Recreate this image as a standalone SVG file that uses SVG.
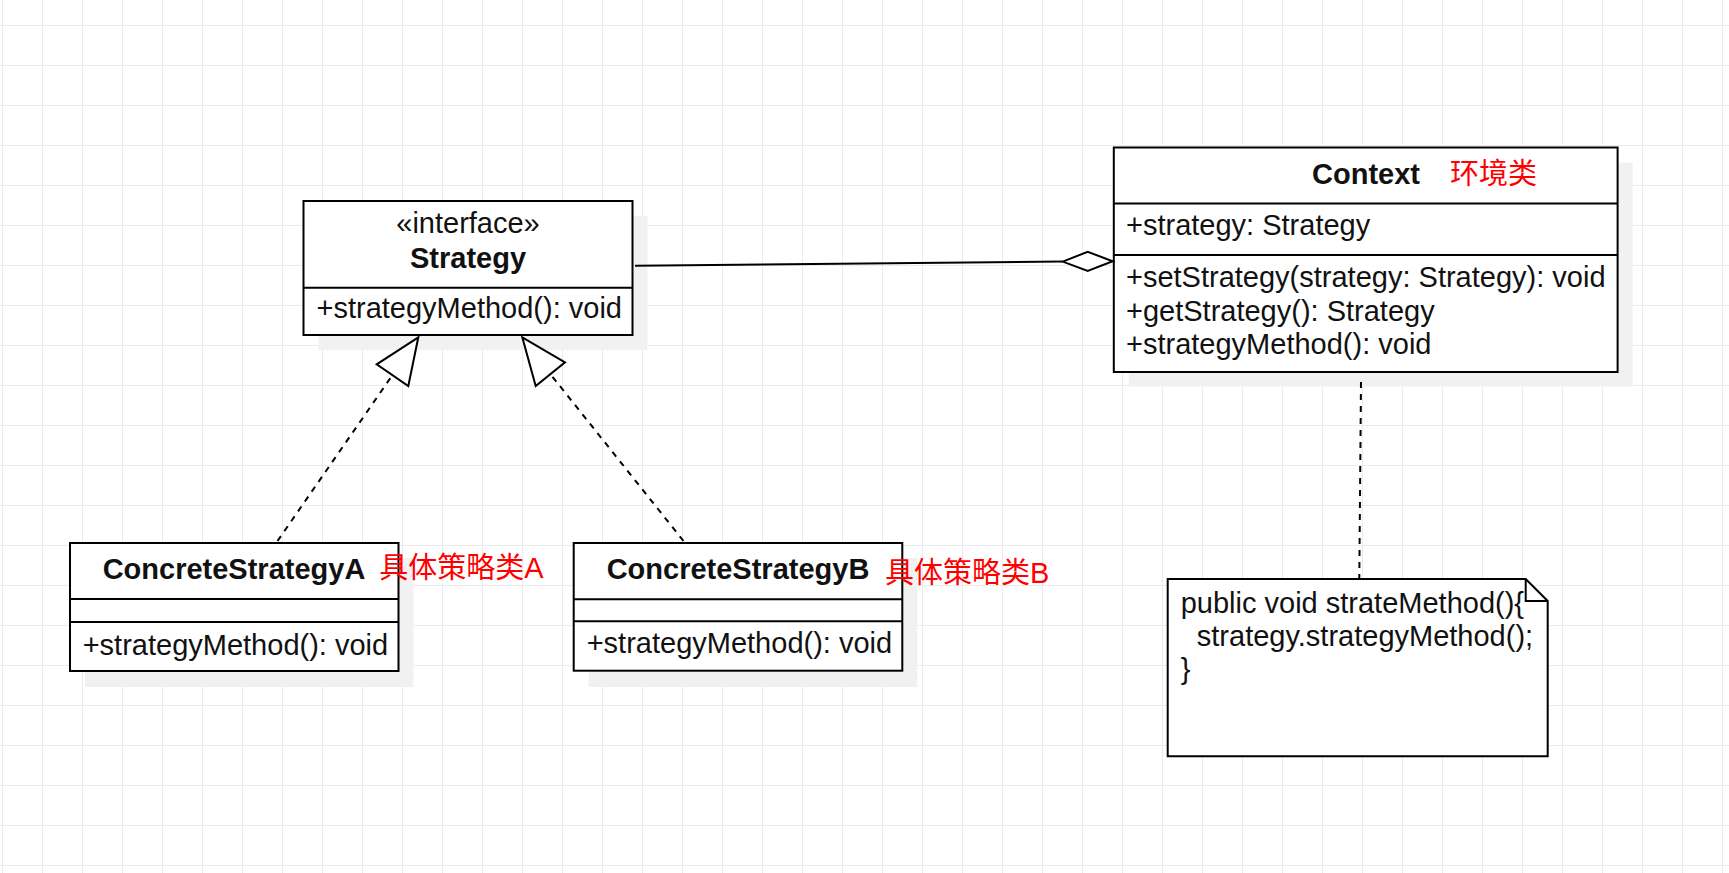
<svg xmlns="http://www.w3.org/2000/svg" width="1729" height="873" viewBox="0 0 1729 873">
<defs>
<pattern id="grid" x="2" y="25" width="40" height="40" patternUnits="userSpaceOnUse">
<path d="M0 0.5H40M0.5 0V40" fill="none" stroke="#ebebeb" stroke-width="1"/>
</pattern>
<style>
.box{fill:#fff;stroke:#000;stroke-width:2}
.shadow{fill:#f1f1f1}
.div{stroke:#000;stroke-width:2}
.t{font-family:"Liberation Sans",Arial,sans-serif;font-size:29px;fill:#111}
.b{font-weight:bold}
.m{text-anchor:middle}
.red{font-family:"Liberation Sans","Noto Sans CJK SC",sans-serif;font-size:29px;fill:#ff0000}
.dash{fill:none;stroke:#000;stroke-width:2;stroke-dasharray:6 6}
.solid{fill:none;stroke:#000;stroke-width:2}
.head{fill:#fff;stroke:#000;stroke-width:2;stroke-linejoin:miter}
</style>
</defs>
<rect width="1729" height="873" fill="#fff"/>
<rect width="1729" height="873" fill="url(#grid)"/>

<g id="strategy">
<rect class="shadow" x="318.5" y="216" width="329" height="134"/>
<rect class="box" x="303.5" y="201" width="329" height="134"/>
<line class="div" x1="303.5" y1="287.7" x2="632.5" y2="287.7"/>
<text class="t m" x="468" y="233">«interface»</text>
<text class="t b m" x="468" y="268">Strategy</text>
<text class="t" x="316.5" y="318">+strategyMethod(): void</text>
</g>

<g id="context">
<rect class="shadow" x="1128.8" y="162.5" width="503.8" height="224"/>
<rect class="box" x="1113.8" y="147.5" width="503.8" height="224.5"/>
<line class="div" x1="1113.8" y1="203.5" x2="1617.6" y2="203.5"/>
<line class="div" x1="1113.8" y1="255" x2="1617.6" y2="255"/>
<text class="t b m" x="1366" y="184">Context</text>
<text class="red" x="1450" y="184">环境类</text>
<text class="t" x="1126" y="235">+strategy: Strategy</text>
<text class="t" x="1126" y="286.7">+setStrategy(strategy: Strategy): void</text>
<text class="t" x="1126" y="320.6">+getStrategy(): Strategy</text>
<text class="t" x="1126" y="354">+strategyMethod(): void</text>
</g>

<g id="concreteA">
<rect class="shadow" x="85" y="558" width="328.5" height="129"/>
<rect class="box" x="70" y="543" width="328.5" height="128"/>
<line class="div" x1="70" y1="599" x2="398.5" y2="599"/>
<line class="div" x1="70" y1="622" x2="398.5" y2="622"/>
<text class="t b m" x="234" y="579.3">ConcreteStrategyA</text>
<text class="red" x="379.3" y="578">具体策略类A</text>
<text class="t" x="82.7" y="655">+strategyMethod(): void</text>
</g>

<g id="concreteB">
<rect class="shadow" x="588.7" y="558" width="328.6" height="129"/>
<rect class="box" x="573.7" y="543" width="328.6" height="127.7"/>
<line class="div" x1="573.7" y1="599.3" x2="902.3" y2="599.3"/>
<line class="div" x1="573.7" y1="621.3" x2="902.3" y2="621.3"/>
<text class="t b m" x="738" y="579.3">ConcreteStrategyB</text>
<text class="red" x="885" y="583">具体策略类B</text>
<text class="t" x="586.7" y="653.3">+strategyMethod(): void</text>
</g>

<g id="note">
<path class="box" d="M1167.7 579H1525.7L1547.7 601V756.3H1167.7Z"/>
<path class="solid" d="M1525.7 579V601H1547.7"/>
<text class="t" x="1180.7" y="613.3">public void strateMethod(){</text>
<text class="t" x="1180.7" y="646" xml:space="preserve">  strategy.strategyMethod();</text>
<text class="t" x="1180.7" y="679">}</text>
</g>

<g id="connectors">
<line class="dash" x1="277.5" y1="541" x2="392.5" y2="375"/>
<polygon class="head" points="418.3,337.3 376.7,364.3 408.3,386"/>
<line class="dash" x1="683.5" y1="541" x2="550.3" y2="374"/>
<polygon class="head" points="522.3,337.3 565,362.3 535.7,386"/>
<line class="solid" x1="635" y1="265.7" x2="1062.7" y2="261.6"/>
<polygon class="head" points="1062.7,261.6 1087.7,251.8 1112.7,261.2 1087.7,271"/>
<line class="dash" x1="1361" y1="382" x2="1359.3" y2="578"/>
</g>
</svg>
